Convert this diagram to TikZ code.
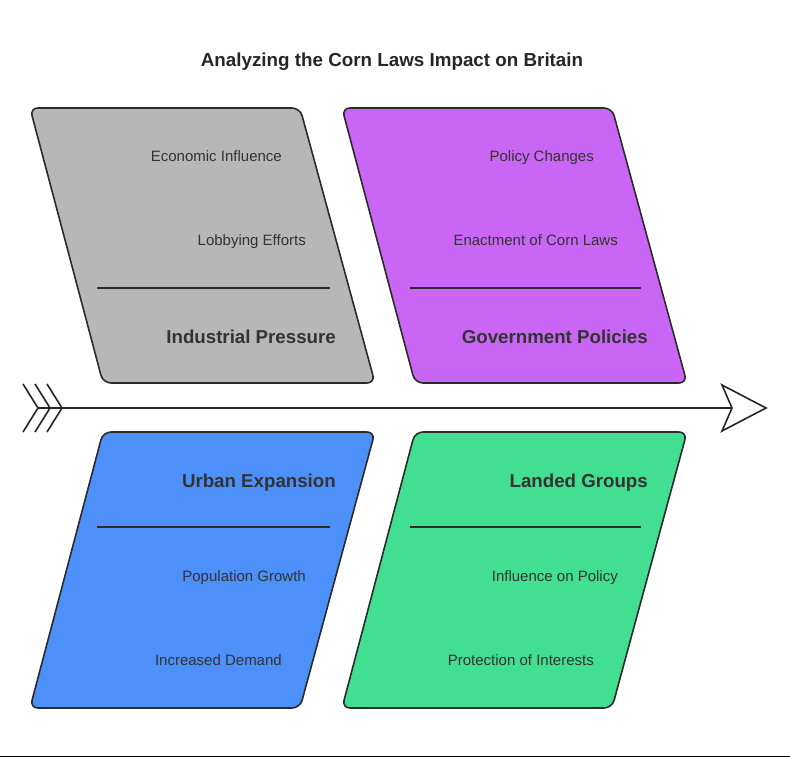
\documentclass[tikz,border=0pt]{standalone}
\usepackage{fontspec}
\setmainfont{Liberation Sans}
\begin{document}
\begin{tikzpicture}[x=1pt,y=-1pt,
  panel/.style={draw=black!83, line width=1.6pt, rounded corners=8pt, line join=round},
  sub/.style={anchor=base east, text=black!80, font=\fontsize{15}{18}\selectfont, inner sep=0pt},
  head/.style={anchor=base east, text=black!80, font=\fontsize{18.7}{22}\selectfont\bfseries, inner sep=0pt},
  sep/.style={draw=black!83, line width=1.4pt},
  bone/.style={draw=black!85, line width=1.6pt}]
\useasboundingbox (0,0) rectangle (790,757);
\definecolor{cgray}{RGB}{183,183,183}
\definecolor{cpurple}{RGB}{201,102,245}
\definecolor{cblue}{RGB}{77,144,250}
\definecolor{cgreen}{RGB}{66,222,146}
% title
\node[anchor=base, inner sep=0pt, font=\fontsize{18.8}{22}\selectfont\bfseries, text=black!85] (title) at (392,67) {Analyzing the Corn Laws Impact on Britain};
% panels
\path[panel, fill=cgray] (30,108) -- (300,108) -- (375,383) -- (103,383) -- cycle;
\path[panel, fill=cpurple] (342,108) -- (612,108) -- (687,383) -- (415,383) -- cycle;
\path[panel, fill=cblue] (103,432) -- (375,432) -- (300,708) -- (30,708) -- cycle;
\path[panel, fill=cgreen] (415,432) -- (687,432) -- (612,708) -- (342,708) -- cycle;
% separators
\coordinate (s1a) at (97,288); \coordinate (s1b) at (330,288);
\coordinate (s2a) at (410,288); \coordinate (s2b) at (641,288);
\coordinate (s3a) at (97,527); \coordinate (s3b) at (330,527);
\coordinate (s4a) at (410,527); \coordinate (s4b) at (641,527);
\draw[sep] (s1a) -- (s1b);
\draw[sep] (s2a) -- (s2b);
\draw[sep] (s3a) -- (s3b);
\draw[sep] (s4a) -- (s4b);
% texts
\node[sub] (t1a) at (282,161) {Economic Influence};
\node[sub] (t1b) at (306,245) {Lobbying Efforts};
\node[head] (h1) at (336,343) {Industrial Pressure};
\node[sub] (t2a) at (594,161) {Policy Changes};
\node[sub] (t2b) at (618,245) {Enactment of Corn Laws};
\node[head] (h2) at (648,343) {Government Policies};
\node[head] (h3) at (336,487) {Urban Expansion};
\node[sub] (t3a) at (306,581) {Population Growth};
\node[sub] (t3b) at (282,665) {Increased Demand};
\node[head] (h4) at (648,487) {Landed Groups};
\node[sub] (t4a) at (618,581) {Influence on Policy};
\node[sub] (t4b) at (594,665) {Protection of Interests};
% spine
\coordinate (tail) at (38,408);
\coordinate (notch) at (732,408);
\draw[bone] (tail) -- (notch);
\draw[bone, line join=miter] (notch) -- (722,385) -- (766,408) -- (722,431) -- cycle;
\foreach \dx in {0,12,24} {
  \draw[bone, line join=miter] (23+\dx,384) -- (38+\dx,408) -- (23+\dx,432);
}
% bottom rule
\coordinate (r1) at (0,756); \coordinate (r2) at (790,756);
\draw[black, line width=1pt] (r1) -- (r2);
\end{tikzpicture}
\end{document}
